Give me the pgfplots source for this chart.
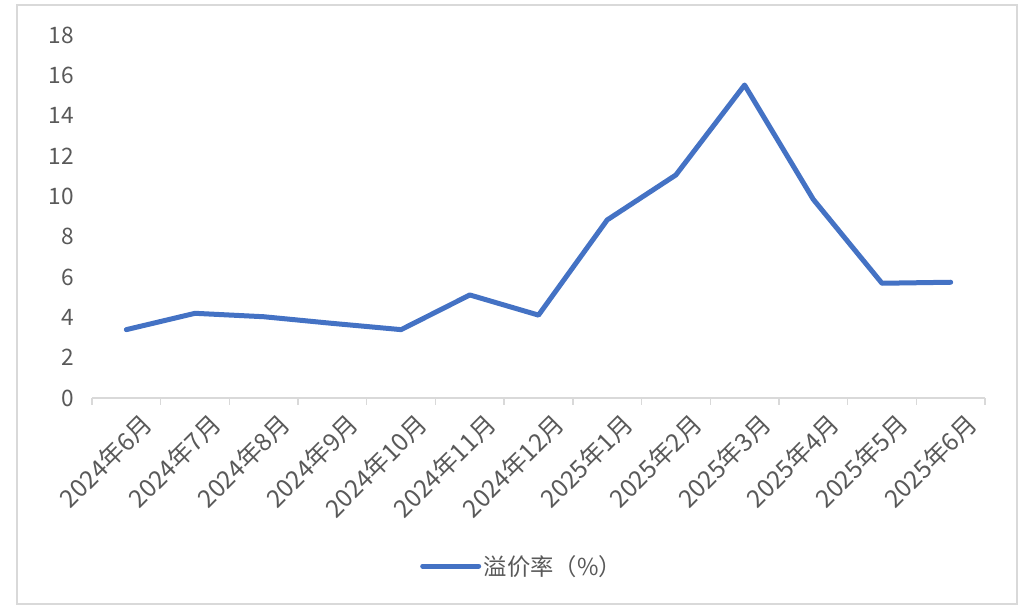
\documentclass[border=0pt]{standalone}
\usepackage{pgfplots}
\pgfplotsset{compat=1.18}
\usepackage{fontspec}
\setmainfont{Noto Sans CJK SC}
\definecolor{lineblue}{HTML}{4472C4}
\definecolor{txtgray}{HTML}{595959}
\definecolor{axgray}{HTML}{D9D9D9}
\begin{document}
\begin{tikzpicture}
\path[use as bounding box] (0,0) rectangle (768pt,458.25pt);
\draw[axgray, line width=1pt] (12.75pt,5.25pt) rectangle (762.75pt,454.5pt);
\begin{axis}[
  at={(69pt,159.75pt)}, anchor=south west,
  scale only axis, width=669.75pt, height=272.25pt,
  xmin=-0.5, xmax=12.5, ymin=0, ymax=18,
  ytick={0,2,...,18},
  xtick={0,...,12},
  xticklabels={2024年6月,2024年7月,2024年8月,2024年9月,2024年10月,2024年11月,2024年12月,2025年1月,2025年2月,2025年3月,2025年4月,2025年5月,2025年6月},
  minor xtick={-0.5,0.5,...,12.5},
  axis x line*=bottom, axis y line*=left,
  y axis line style={draw=none},
  x axis line style={axgray, line width=1.2pt, -},
  major x tick style={draw=none},
  minor x tick style={axgray, line width=1pt},
  minor tick length=5pt,
  tick align=outside,
  ytick style={draw=none},
  /pgf/number format/assume math mode=true,
  tick label style={font=\fontsize{17}{20}\selectfont, text=txtgray},
  yticklabel style={xshift=-6pt},
  xticklabel style={font=\fontsize{18.5}{21}\selectfont, rotate=45, anchor=north east, inner sep=0pt, yshift=-11pt, xshift=3pt},
  legend style={at={(0.482,-0.463)}, anchor=center, draw=none, fill=none,
    font=\fontsize{17.5}{20}\selectfont, text=txtgray},
  legend image code/.code={\draw[#1, line cap=round] (0pt,0pt) -- (42pt,0pt);},
]
\addplot[lineblue, line width=3.75pt, line join=round, line cap=round] coordinates {
  (0,3.39) (1,4.20) (2,4.03) (3,3.70) (4,3.39) (5,5.11) (6,4.11)
  (7,8.83) (8,11.06) (9,15.52) (10,9.85) (11,5.69) (12,5.74)
};
\addlegendentry{溢价率（\%）}
\end{axis}
\end{tikzpicture}
\end{document}
